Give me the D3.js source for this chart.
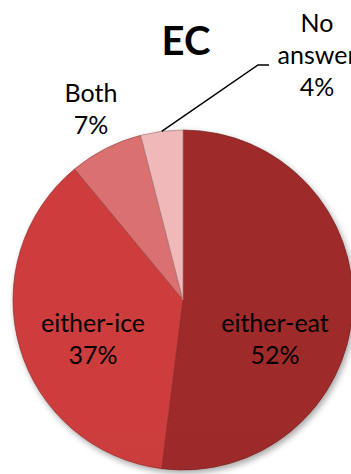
<!DOCTYPE html>
<html>
<head>
<meta charset="utf-8">
<script src="https://cdn.jsdelivr.net/npm/d3@7"></script>
<style>
  html, body { margin: 0; padding: 0; background: #fff; }
  svg { display: block; }
  text { font-family: Lato, "Open Sans", sans-serif; fill: #000; }
</style>
</head>
<body>
<svg id="chart" width="351" height="474"></svg>
<script>
// Survey answers for EC, in drawing order (clockwise from 12 o'clock)
const categories = ["either-eat", "either-ice", "Both", "No answer"];
const shares = [52, 37, 7, 4];
const labelLines = [["either-eat", "52%"], ["either-ice", "37%"], ["Both", "7%"], ["No", "answer", "4%"]];
const sliceColors = ["#9a2b2b", "#c73b3b", "#d46c6c", "#e8b3b4"];
const title = "EC";

const svg = d3.select("#chart");
const width = 351, height = 474;
const cx = 183, cy = 300, radius = 170;

const defs = svg.append("defs");

// soft shadow under the pie
const shadow = defs.append("filter").attr("id", "shadow")
  .attr("x", "-20%").attr("y", "-20%").attr("width", "140%").attr("height", "140%");
shadow.append("feDropShadow").attr("dx", 2).attr("dy", 3)
  .attr("stdDeviation", 3).attr("flood-color", "#000").attr("flood-opacity", 0.35);

// light-to-dark shading per slice
sliceColors.forEach((c, i) => {
  const g = defs.append("linearGradient").attr("id", "grad" + i)
    .attr("gradientUnits", "userSpaceOnUse")
    .attr("x1", 0).attr("y1", cy - radius).attr("x2", 0).attr("y2", cy + radius);
  g.append("stop").attr("offset", "0%").attr("stop-color", d3.color(c).brighter(0.08));
  g.append("stop").attr("offset", "100%").attr("stop-color", d3.color(c).darker(0.22));
});

const pie = d3.pie().sort(null).value(d => d);
const arcs = pie(shares);
const arc = d3.arc().innerRadius(0).outerRadius(radius);

const g = svg.append("g").attr("transform", `translate(${cx},${cy})`);

g.append("g").attr("filter", "url(#shadow)")
  .selectAll("path").data(arcs).join("path")
  .attr("d", arc)
  .attr("fill", (d, i) => `url(#grad${i})`)
  .attr("stroke", (d, i) => d3.color(sliceColors[i]).darker(0.9))
  .attr("stroke-width", 0.7)
  .attr("stroke-linejoin", "round");

// title
svg.append("text")
  .attr("x", 186).attr("y", 55)
  .attr("text-anchor", "middle")
  .attr("font-size", 40).attr("font-weight", "bold")
  .text(title);

// slice labels
const labelPos = [
  { x: 275, y: 332 },
  { x: 93, y: 332 },
  { x: 91, y: 102 },
  { x: 317, y: 32 }
];
const lineGap = 32;
labelLines.forEach((lines, i) => {
  const t = svg.append("text")
    .attr("text-anchor", "middle")
    .attr("font-size", 25);
  lines.forEach((s, j) => {
    t.append("tspan").attr("x", labelPos[i].x).attr("y", labelPos[i].y + j * lineGap).text(s);
  });
});

// leader line for the small slice
const small = arcs[3];
const mid = (small.startAngle + small.endAngle) / 2;
const edge = [cx + radius * Math.sin(mid), cy - radius * Math.cos(mid)];
svg.append("polyline")
  .attr("points", [edge, [258, 65], [269, 65]].map(p => p.join(",")).join(" "))
  .attr("fill", "none").attr("stroke", "#000").attr("stroke-width", 1.5);
</script>
</body>
</html>
